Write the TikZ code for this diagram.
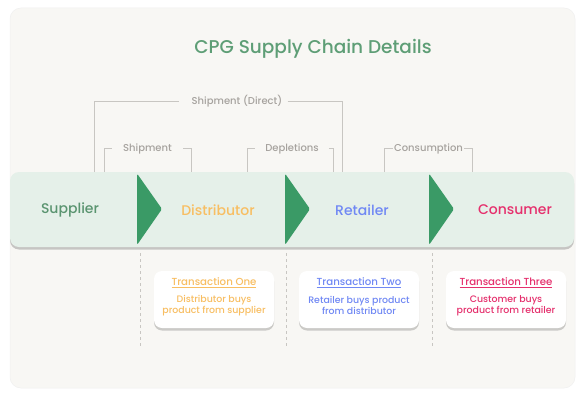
\documentclass[tikz,border=0pt]{standalone}
\usepackage{fontspec}
\setmainfont{Poppins}[UprightFont=* Medium]
\usetikzlibrary{positioning,shadows}

\definecolor{pagebg}{HTML}{F8F7F4}
\definecolor{bandbg}{HTML}{E5F0E9}
\definecolor{chevron}{HTML}{3A9A66}
\definecolor{titlegreen}{HTML}{5E9E76}
\definecolor{supcol}{HTML}{5A9470}
\definecolor{discol}{HTML}{F8BE62}
\definecolor{retcol}{HTML}{7088F4}
\definecolor{concol}{HTML}{E5306D}
\definecolor{linegray}{HTML}{C8C6C2}
\definecolor{taggray}{HTML}{A6A29E}

\begin{document}
\begin{tikzpicture}[x=1pt,y=-1pt]
      \tikzset{
        stage/.style={font=\fontsize{14}{16}\selectfont},
        tag/.style={font=\fontsize{10}{12}\selectfont,text=taggray,inner sep=0pt},
        bracket/.style={draw=linegray,line width=0.7pt},
        card/.style={fill=white,rounded corners=8pt,minimum width=120pt,minimum height=57pt,
          align=center,inner sep=0pt,
          drop shadow={shadow xshift=0pt,shadow yshift=-2.5pt,opacity=0.18,fill=black}},
        cardtitle/.style={font=\fontsize{10.2}{12}\selectfont,inner sep=0pt},
        cardtext/.style={font=\fontsize{9.4}{11}\selectfont,align=center,inner sep=0pt},
        guide/.style={draw=linegray,line width=0.7pt,dash pattern=on 3pt off 3pt}
      }

      \useasboundingbox (0,0) rectangle (585,401);
      \fill[white] (0,0) rectangle (585,401);
      \filldraw[fill=pagebg,draw=white!94!black,line width=0.5pt,rounded corners=11pt] (10,8) rectangle (575,388);

      \node[font=\fontsize{18.5}{21}\selectfont,text=titlegreen] (title) at (313,49) {CPG Supply Chain Details};

      % band with the four stages
      \node[fill=bandbg,rounded corners=9pt,minimum width=564pt,minimum height=75pt,inner sep=0pt,
        drop shadow={shadow xshift=0pt,shadow yshift=-2.5pt,opacity=0.2,fill=black}] (band) at (292,209.5) {};

      \foreach \x in {137,285,429}
        \fill[chevron,rounded corners=1.5pt] (\x,173.5) -- (\x+25,209) -- (\x,245) -- cycle;

      \node[stage,text=supcol] (sup) at (70,210) {Supplier};
      \node[stage,text=discol] (dis) at (218,210) {Distributor};
      \node[stage,text=retcol] (ret) at (362,210) {Retailer};
      \node[stage,text=concol] (con) at (515,210) {Consumer};

      % brackets above the band
      \node[tag] (shipdirect) at (237,101.5) {Shipment (Direct)};
      \node[tag] (ship) at (147.5,148.5) {Shipment};
      \node[tag] (depl) at (292,148.5) {Depletions};
      \node[tag] (cons) at (428.5,148.5) {Consumption};

      \coordinate (sdl) at (94,172);
      \coordinate (sdr) at (342,172);
      \coordinate (shl) at (104,172);
      \coordinate (shr) at (191,172);
      \coordinate (del) at (247,172);
      \coordinate (der) at (333,172);
      \coordinate (col) at (384,172);
      \coordinate (cor) at (472,172);

      \draw[bracket] (sdl) |- ([xshift=-12pt]shipdirect.west);
      \draw[bracket] ([xshift=5pt]shipdirect.east) -| (sdr);
      \draw[bracket] (shl) |- ([xshift=-11pt]ship.west);
      \draw[bracket] ([xshift=11pt]ship.east) -| (shr);
      \draw[bracket] (del) |- ([xshift=-10pt]depl.west);
      \draw[bracket] ([xshift=10pt]depl.east) -| (der);
      \draw[bracket] (col) |- ([xshift=-1pt]cons.west);
      \draw[bracket] ([xshift=1pt]cons.east) -| (cor);

      % dashed guides
      \foreach \x/\n in {140/a,286/b,432/c} {
        \coordinate (g\n top) at (\x,253);
        \coordinate (g\n bot) at (\x,346);
        \draw[guide] (g\n top) -- (g\n bot);
      }

      % transaction cards
      \node[card] (t1) at (214,299.5) {};
      \node[card] (t2) at (359,299.5) {};
      \node[card] (t3) at (506,299.5) {};

      \node[cardtitle,text=discol] (t1h) at (214,283) {\underline{Transaction One}};
      \node[cardtitle,text=retcol] (t2h) at (359,283) {\underline{Transaction Two}};
      \node[cardtitle,text=concol] (t3h) at (506,283) {\underline{Transaction Three}};

      \node[cardtext,text=discol] (t1b) at (214,305.5) {Distributor buys\\product from supplier};
      \node[cardtext,text=retcol] (t2b) at (359,305.5) {Retailer buys product\\from distributor};
      \node[cardtext,text=concol] (t3b) at (506,305.5) {Customer buys\\product from retailer};
    \end{tikzpicture}
\end{document}
